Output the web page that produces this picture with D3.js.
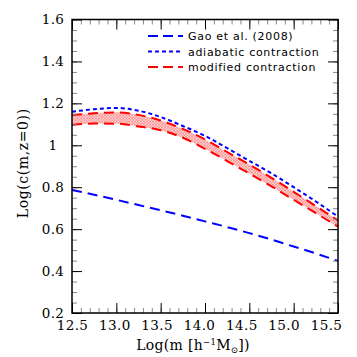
<!DOCTYPE html>
<html>
<head>
<meta charset="utf-8">
<script src="https://cdn.jsdelivr.net/npm/d3@7"></script>
<style>
  body { margin: 0; background: #fff; }
  svg { display: block; }
  .tick text { font-family: "DejaVu Serif", serif; }
</style>
</head>
<body>
<div id="chart"></div>
<script>
// log mass grid (h^-1 Msun)
var logM = [12.5, 12.75, 13.0, 13.25, 13.5, 13.75, 14.0, 14.25, 14.5, 14.75, 15.0, 15.25, 15.5]

// log c(m, z=0)
var gao      = [0.787, 0.764, 0.740, 0.715, 0.690, 0.664, 0.637, 0.610, 0.581, 0.550, 0.517, 0.484, 0.448]
var adiabat  = [1.160, 1.172, 1.178, 1.165, 1.135, 1.092, 1.045, 0.986, 0.926, 0.866, 0.800, 0.732, 0.660]
var modUpper = [1.144, 1.153, 1.157, 1.145, 1.118, 1.078, 1.028, 0.968, 0.908, 0.845, 0.778, 0.710, 0.642]
var modLower = [1.097, 1.104, 1.103, 1.090, 1.072, 1.036, 0.983, 0.925, 0.865, 0.804, 0.740, 0.676, 0.612]

var xTicks = [12.5, 13, 13.5, 14, 14.5, 15, 15.5]
var yTicks = [0.2, 0.4, 0.6, 0.8, 1, 1.2, 1.4, 1.6]
var legendLabels = ["Gao et al. (2008)", "adiabatic contraction", "modified contraction"]

var W = 357, H = 357
var margin = {top: 19.5, right: 19, bottom: 44, left: 72},
    width = W - margin.left - margin.right,
    height = H - margin.top - margin.bottom

var svg = d3.select("#chart").append("svg")
    .attr("width", W)
    .attr("height", H)
  .append("g")
    .attr("transform", "translate(" + margin.left + "," + margin.top + ")")

var x = d3.scaleLinear().domain([12.5, 15.5]).range([0, width])
var y = d3.scaleLinear().domain([0.2, 1.6]).range([height, 0])

var rows = logM.map(function(m, i) {
  return {m: m, gao: gao[i], ad: adiabat[i], up: modUpper[i], lo: modLower[i]}
})

// hatch pattern for the modified contraction band
var defs = d3.select("#chart svg").append("defs")
var pat = defs.append("pattern")
    .attr("id", "hatch")
    .attr("patternUnits", "userSpaceOnUse")
    .attr("width", 3).attr("height", 3)
pat.append("rect").attr("width", 3).attr("height", 3).attr("fill", "#fde6e6")
pat.append("path").attr("d", "M0,3 L3,0 M-1,1 L1,-1 M2,4 L4,2")
    .attr("stroke", "#ff0000").attr("stroke-width", 0.6).attr("opacity", 0.6)
pat.append("path").attr("d", "M0,0 L3,3 M-1,2 L1,4 M2,-1 L4,1")
    .attr("stroke", "#ff0000").attr("stroke-width", 0.6).attr("opacity", 0.6)

var plot = svg.append("g")

plot.append("path")
  .datum(rows)
  .attr("fill", "url(#hatch)")
  .attr("d", d3.area()
    .curve(d3.curveMonotoneX)
    .x(function(d) { return x(d.m) })
    .y0(function(d) { return y(d.lo) })
    .y1(function(d) { return y(d.up) }))

function drawLine(key, color, dash) {
  plot.append("path")
    .datum(rows)
    .attr("fill", "none")
    .attr("stroke", color)
    .attr("stroke-width", 2)
    .attr("stroke-dasharray", dash)
    .attr("d", d3.line()
      .curve(d3.curveMonotoneX)
      .x(function(d) { return x(d.m) })
      .y(function(d) { return y(d[key]) }))
}

drawLine("gao", "#0000ff", "10,6")
drawLine("up", "#ff0000", "10,6")
drawLine("lo", "#ff0000", "10,6")
drawLine("ad", "#0000ff", "4,3")

// ticks (inward, all four sides)
var xMinor = d3.range(12.5, 15.51, 0.1)
var yMinor = d3.range(0.2, 1.61, 0.05)

var axes = svg.append("g")
axes.append("g").attr("transform", "translate(0," + height + ")")
  .call(d3.axisTop(x).tickValues(xMinor).tickSize(5).tickFormat(""))
  .attr("class", "minor")
axes.append("g")
  .call(d3.axisBottom(x).tickValues(xMinor).tickSize(5).tickFormat(""))
  .attr("class", "minor")
axes.append("g")
  .call(d3.axisRight(y).tickValues(yMinor).tickSize(5).tickFormat(""))
  .attr("class", "minor")
axes.append("g").attr("transform", "translate(" + width + ",0)")
  .call(d3.axisLeft(y).tickValues(yMinor).tickSize(5).tickFormat(""))
  .attr("class", "minor")

axes.append("g").attr("transform", "translate(0," + height + ")")
  .call(d3.axisTop(x).tickValues(xTicks).tickSize(10).tickFormat(""))
axes.append("g")
  .call(d3.axisBottom(x).tickValues(xTicks).tickSize(10).tickFormat(""))
axes.append("g")
  .call(d3.axisRight(y).tickValues(yTicks).tickSize(10).tickFormat(""))
axes.append("g").attr("transform", "translate(" + width + ",0)")
  .call(d3.axisLeft(y).tickValues(yTicks).tickSize(10).tickFormat(""))

axes.selectAll(".domain").remove()
axes.selectAll(".minor line").attr("stroke", "#888")

// frame
svg.append("rect")
  .attr("width", width).attr("height", height)
  .attr("fill", "none").attr("stroke", "#000").attr("stroke-width", 1.5)

// tick labels
var fmt = function(d) { return d === 1 ? "1" : d3.format(".1f")(d) }
var xl = svg.append("g").attr("transform", "translate(0," + height + ")")
  .call(d3.axisBottom(x).tickValues(xTicks).tickSize(0).tickPadding(7).tickFormat(fmt))
xl.select(".domain").remove()
xl.selectAll("text").attr("font-size", 13.5).attr("fill", "#000")
  .attr("letter-spacing", 0.4)
  .attr("dx", function(d) { return -(d - 12.5) * 4 })

var yl = svg.append("g")
  .call(d3.axisLeft(y).tickValues(yTicks).tickSize(0).tickPadding(0).tickFormat(fmt))
yl.select(".domain").remove()
yl.selectAll("text").attr("font-size", 13.5).attr("fill", "#000")
  .attr("letter-spacing", 0.4)
  .attr("text-anchor", "middle").attr("x", -19)

// axis titles
var xt = svg.append("text")
  .attr("x", 121).attr("y", height + 37)
  .attr("text-anchor", "middle")
  .attr("font-family", "DejaVu Serif, serif")
  .attr("font-size", 14)
  .attr("letter-spacing", 0.3)
xt.append("tspan").text("Log(m  [h")
xt.append("tspan").attr("font-size", 8.5).attr("dy", -5).text("−1")
xt.append("tspan").attr("dy", 5).text("M")
xt.append("tspan").attr("font-size", 8.5).attr("dy", 3).text("⊙")
xt.append("tspan").attr("dy", -3).text("])")

svg.append("text")
  .attr("transform", "translate(-44," + (height / 2 - 3) + ") rotate(-90)")
  .attr("text-anchor", "middle")
  .attr("font-family", "DejaVu Serif, serif")
  .attr("font-size", 14)
  .attr("letter-spacing", 0.6)
  .text("Log(c(m,z=0))")

// legend
var leg = svg.append("g").attr("transform", "translate(76,16.5)")
var legStyle = [["#0000ff", "10,5"], ["#0000ff", "4,3"], ["#ff0000", "10,5"]]
legendLabels.forEach(function(lab, i) {
  var g = leg.append("g").attr("transform", "translate(0," + (i * 15.5) + ")")
  g.append("line").attr("x1", 0).attr("x2", 35)
    .attr("stroke", legStyle[i][0]).attr("stroke-width", 2)
    .attr("stroke-dasharray", legStyle[i][1])
  g.append("text").attr("x", 40).attr("y", 4)
    .attr("font-family", "DejaVu Sans, sans-serif")
    .attr("font-size", 11)
    .attr("letter-spacing", 0.7)
    .text(lab)
})
</script>
</body>
</html>
